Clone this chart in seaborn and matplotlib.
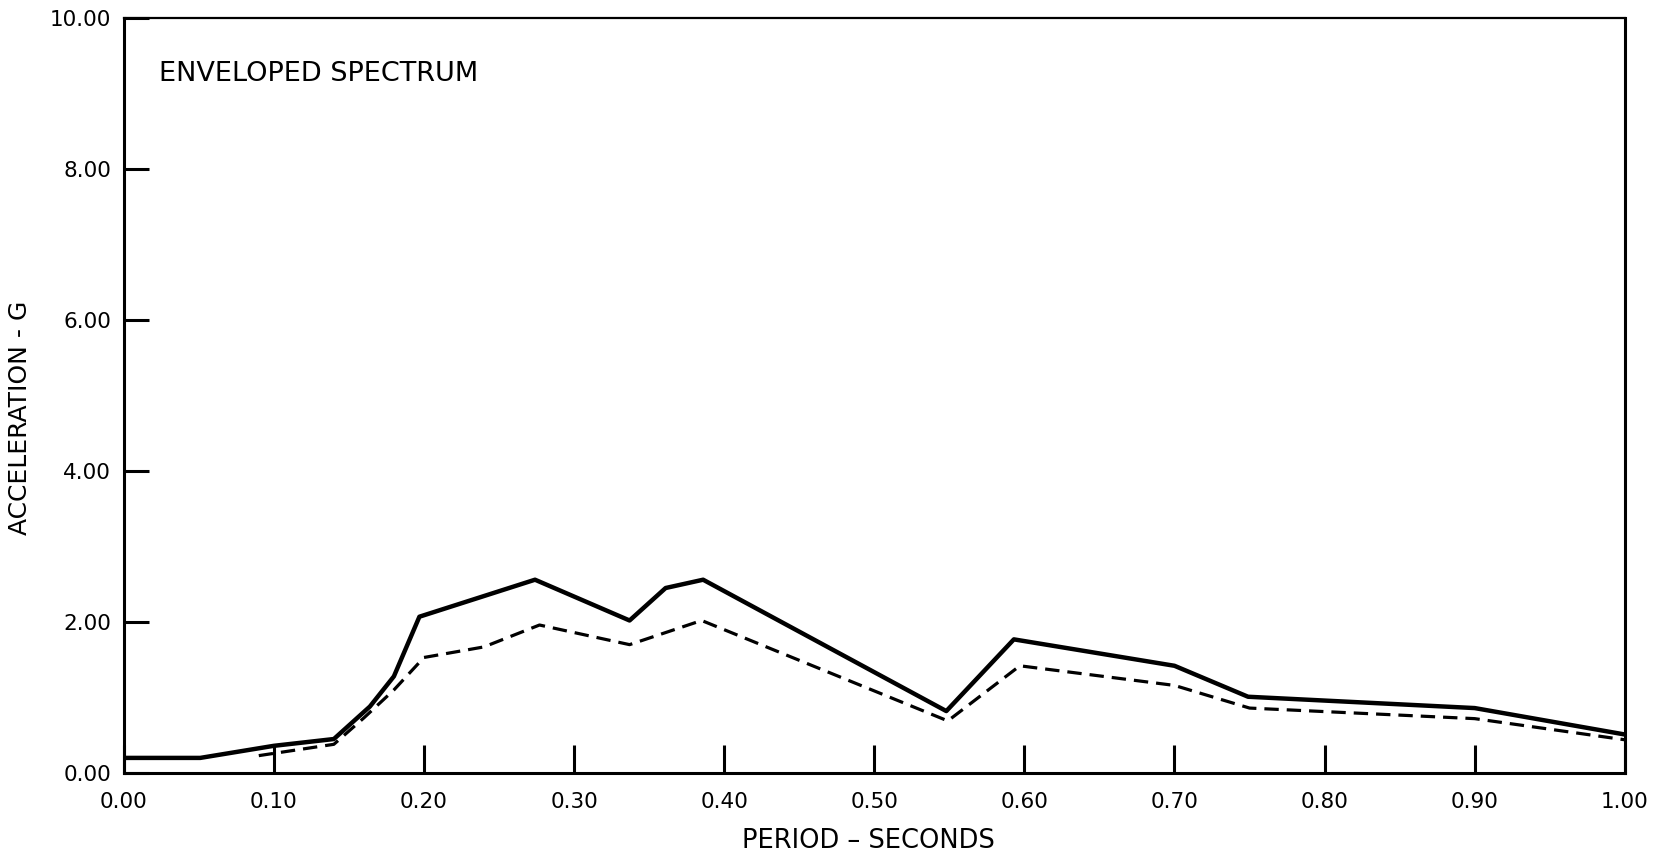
import matplotlib
matplotlib.use("Agg")
import matplotlib.pyplot as plt
import seaborn as sns

# data
solid_period = [0.0, 0.051, 0.100, 0.140, 0.164, 0.180, 0.197, 0.274, 0.337, 0.361, 0.386, 0.548, 0.593, 0.700, 0.749, 0.900, 1.000]
solid_accel = [0.20, 0.20, 0.36, 0.45, 0.88, 1.28, 2.07, 2.56, 2.02, 2.45, 2.56, 0.82, 1.77, 1.42, 1.01, 0.86, 0.51]

dashed_period = [0.090, 0.140, 0.160, 0.180, 0.200, 0.240, 0.277, 0.337, 0.385, 0.549, 0.597, 0.700, 0.750, 0.900, 1.000]
dashed_accel = [0.23, 0.38, 0.73, 1.10, 1.53, 1.67, 1.96, 1.70, 2.02, 0.69, 1.42, 1.16, 0.86, 0.72, 0.44]

x_ticks = [0.0, 0.1, 0.2, 0.3, 0.4, 0.5, 0.6, 0.7, 0.8, 0.9, 1.0]
y_ticks = [0, 2, 4, 6, 8, 10]

sns.set_style("ticks")
plt.rcParams["font.family"] = ["DejaVu Sans"]
plt.rcParams["text.color"] = "black"
plt.rcParams["axes.labelcolor"] = "black"
plt.rcParams["xtick.color"] = "black"
plt.rcParams["ytick.color"] = "black"

fig, ax = plt.subplots(figsize=(16.58, 8.55), dpi=100)
fig.subplots_adjust(left=0.0746, right=0.980, bottom=0.0959, top=0.979)

sns.lineplot(x=solid_period, y=solid_accel, ax=ax, color="black", linewidth=3.2,
             estimator=None, sort=False)
sns.lineplot(x=dashed_period, y=dashed_accel, ax=ax, color="black", linewidth=2.3,
             estimator=None, sort=False, linestyle=(0, (4.5, 2.5)))

ax.set_xlim(0, 1.0)
ax.set_ylim(0, 10)
ax.set_xticks(x_ticks)
ax.set_xticklabels([f"{v:.2f}" for v in x_ticks])
ax.set_yticks(y_ticks)
ax.set_yticklabels([f"{v:.2f}" for v in y_ticks])
ax.tick_params(axis="x", direction="in", length=20, width=2.2, labelsize=15.5, pad=14)
ax.tick_params(axis="y", direction="in", length=18, width=2.2, labelsize=15.5, pad=9)

for side in ["left", "bottom", "right"]:
    ax.spines[side].set_linewidth(2.2)
ax.spines["top"].set_linewidth(1.6)
for s in ax.spines.values():
    s.set_color("black")
    s.set_visible(True)

ax.set_xlabel("PERIOD \u2013 SECONDS", fontsize=18.5)
ax.set_ylabel("ACCELERATION - G", fontsize=18)
ax.xaxis.set_label_coords(0.496, -0.073)
ax.yaxis.set_label_coords(-0.061, 0.471)

ax.text(0.0235, 0.926, "ENVELOPED SPECTRUM", transform=ax.transAxes,
        fontsize=19.5, va="center", ha="left")

fig.savefig("out.png", dpi=100)
